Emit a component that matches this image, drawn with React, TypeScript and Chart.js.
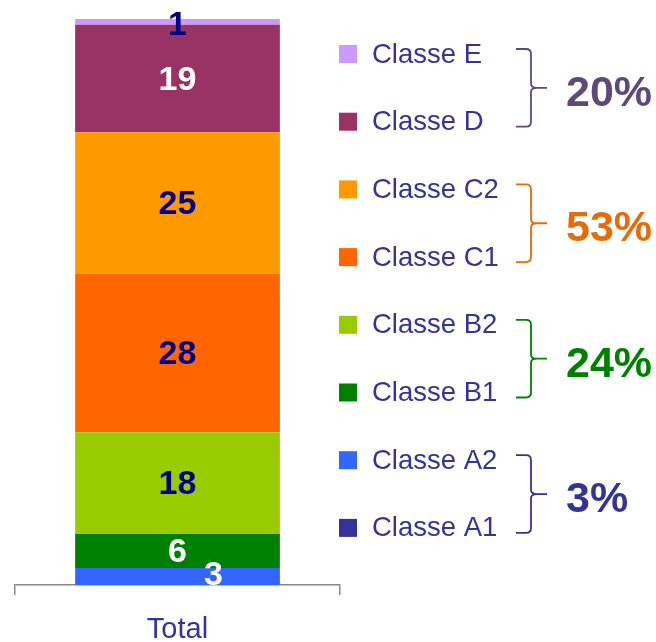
import React, { useEffect, useRef } from "react";
import { Chart, registerables } from "chart.js";

Chart.register(...registerables);

const categories = ["Total"];
const seriesNames = ["Classe A1", "Classe A2", "Classe B1", "Classe B2", "Classe C1", "Classe C2", "Classe D", "Classe E"];
const valuesA1 = [0];
const valuesA2 = [3];
const valuesB1 = [6];
const valuesB2 = [18];
const valuesC1 = [28];
const valuesC2 = [25];
const valuesD = [19];
const valuesE = [1];
const seriesValues = [valuesA1, valuesA2, valuesB1, valuesB2, valuesC1, valuesC2, valuesD, valuesE];
// groups shown with brackets (indices into series, top item first)
const groups = [
  [7, 6],
  [5, 4],
  [3, 2],
  [1, 0],
];

const seriesColors = ["#333399", "#3366FF", "#008000", "#99CC00", "#FF6600", "#FF9900", "#993366", "#CC99FF"];
const labelColors = ["#FFFFFF", "#FFFFFF", "#FFFFFF", "#000080", "#000080", "#000080", "#FFFFFF", "#000080"];
const groupColors = ["#5F497A", "#E46C0A", "#008000", "#333399"];
const labelOffsets: Record<number, [number, number]> = { 1: [36, -3], 7: [0, 2] };

const FONT = "'Liberation Sans', Arial, sans-serif";

const overlayPlugin = {
  id: "overlay",
  afterDatasetsDraw(chart: any) {
    const ctx = chart.ctx;
    ctx.save();
    // data labels
    ctx.font = `bold 34px ${FONT}`;
    ctx.textAlign = "center";
    ctx.textBaseline = "middle";
    chart.data.datasets.forEach((ds: any, i: number) => {
      const meta = chart.getDatasetMeta(i);
      meta.data.forEach((el: any, j: number) => {
        const v = ds.data[j];
        if (!v) return;
        const off = labelOffsets[i] || [0, 0];
        const y = (el.y + el.base) / 2;
        ctx.fillStyle = labelColors[i];
        ctx.fillText(String(v), el.x + off[0], y + off[1] + 2);
      });
    });

    // legend
    const legendTop = 54;
    const step = 67.7;
    const itemY: number[] = [];
    const order = groups.flat();
    order.forEach((si, k) => {
      const y = legendTop + k * step;
      itemY[si] = y;
      ctx.fillStyle = seriesColors[si];
      ctx.fillRect(339, y - 9, 18, 18);
      ctx.fillStyle = "#333399";
      ctx.font = `27.5px ${FONT}`;
      ctx.textAlign = "left";
      ctx.textBaseline = "middle";
      ctx.fillText(seriesNames[si], 372, y + 1);
    });

    // brackets + percentages
    const total = seriesValues.reduce((s, a) => s + a[0], 0);
    groups.forEach((g, gi) => {
      const top = itemY[g[0]] - 5;
      const bot = itemY[g[1]] + 5;
      const mid = (top + bot) / 2;
      const x0 = 516;
      const xv = 531;
      const xt = 547;
      const col = groupColors[gi];
      ctx.strokeStyle = col;
      ctx.lineWidth = 1.8;
      ctx.beginPath();
      ctx.moveTo(x0, top);
      ctx.lineTo(xv - 5, top);
      ctx.quadraticCurveTo(xv, top, xv, top + 5);
      ctx.lineTo(xv, mid - 4);
      ctx.quadraticCurveTo(xv, mid, xt - 10, mid);
      ctx.lineTo(xt, mid);
      ctx.moveTo(xt - 10, mid);
      ctx.quadraticCurveTo(xv, mid, xv, mid + 4);
      ctx.lineTo(xv, bot - 5);
      ctx.quadraticCurveTo(xv, bot, xv - 5, bot);
      ctx.lineTo(x0, bot);
      ctx.stroke();
      const sum = g.reduce((s, si) => s + seriesValues[si][0], 0);
      const pct = Math.round((sum / total) * 100);
      ctx.fillStyle = col;
      ctx.font = `bold 43px ${FONT}`;
      ctx.textAlign = "left";
      ctx.textBaseline = "middle";
      ctx.fillText(`${pct}%`, 566, mid + 6);
    });
    ctx.restore();
  },
};

export default function App() {
  const ref = useRef<HTMLCanvasElement>(null);
  useEffect(() => {
    if (!ref.current) return;
    const chart = new Chart(ref.current, {
      type: "bar",
      data: {
        labels: categories,
        datasets: seriesValues.map((vals, i) => ({
          label: seriesNames[i],
          data: vals,
          backgroundColor: seriesColors[i],
          borderWidth: 0,
          barPercentage: 0.63,
          categoryPercentage: 1,
        })),
      },
      options: {
        responsive: false,
        animation: false,
        layout: { padding: { left: 15, right: 316, top: 19, bottom: -22 } },
        plugins: { legend: { display: false }, tooltip: { enabled: false } },
        scales: {
          x: {
            stacked: true,
            grid: { display: true, drawOnChartArea: false, offset: true, tickLength: 10, color: "#888888", lineWidth: 1.5 },
            border: { display: true, color: "#888888", width: 1.5 },
            ticks: { color: "#333399", font: { family: FONT, size: 29, lineHeight: 1 }, padding: 20 },
          },
          y: {
            stacked: true,
            display: false,
            min: 0,
            max: 100,
          },
        },
      },
      plugins: [overlayPlugin],
    });
    return () => chart.destroy();
  }, []);
  return (
    <div style={{ position: "absolute", left: 0, top: 0, width: 656, height: 642, overflow: "hidden", background: "#fff" }}>
      <canvas ref={ref} width={656} height={642} style={{ display: "block" }} />
    </div>
  );
}
